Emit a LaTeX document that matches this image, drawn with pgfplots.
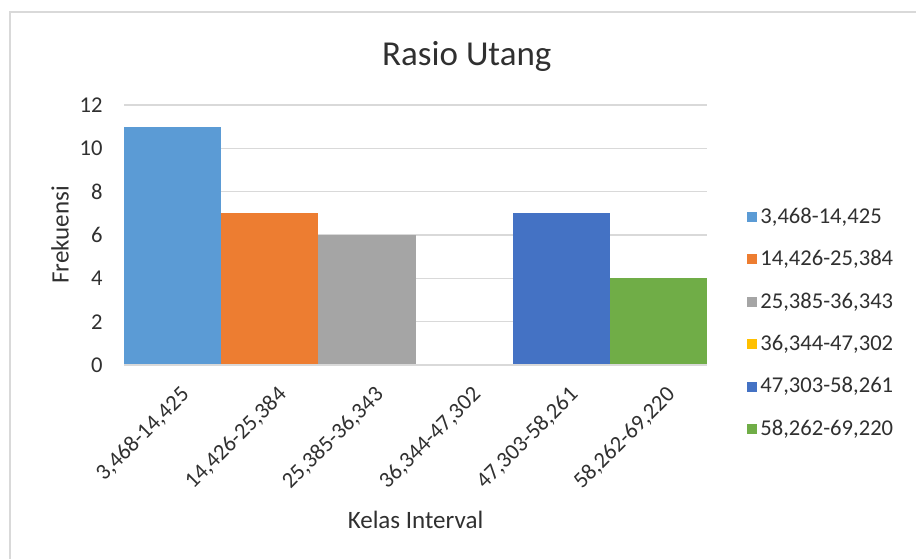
\documentclass[border=0pt]{standalone}
\usepackage{pgfplots}
\pgfplotsset{compat=1.18}
\usepackage{fontspec}
\setmainfont{Carlito}
\definecolor{c1}{HTML}{5B9BD5}
\definecolor{c2}{HTML}{ED7D31}
\definecolor{c3}{HTML}{A5A5A5}
\definecolor{c4}{HTML}{FFC000}
\definecolor{c5}{HTML}{4472C4}
\definecolor{c6}{HTML}{70AD47}
\definecolor{gridc}{HTML}{D9D9D9}
\definecolor{txt}{HTML}{303030}
\begin{document}
\begin{tikzpicture}
\path[use as bounding box] (0,0) rectangle (458pt,-279.5pt);
\draw[gridc, line width=1pt] (5pt,-279.5pt) -- (5pt,-6pt) -- (458pt,-6pt);
\begin{axis}[
  at={(62pt,-182.5pt)}, anchor=south west,
  scale only axis, width=291.5pt, height=130pt,
  ybar, bar width=48.6pt, bar shift=0pt,
  xmin=-0.5, xmax=5.5, ymin=0, ymax=12,
  xtick={0,1,2,3,4,5},
  xticklabels={3{,}468-14{,}425,14{,}426-25{,}384,25{,}385-36{,}343,36{,}344-47{,}302,47{,}303-58{,}261,58{,}262-69{,}220},
  ytick={0,2,4,6,8,10,12},
  xtick pos=bottom, ytick pos=left,
  ymajorgrids, grid style={gridc, line width=0.6pt},
  major tick length=0pt,
  axis line style={draw=none},
  /pgf/number format/assume math mode=true,
  tick label style={font=\fontsize{11.3}{13}\selectfont, text=txt},
  yticklabel style={inner sep=0pt, xshift=-10.5pt, anchor=east},
  xticklabel style={rotate=45, anchor=east, inner sep=0pt, yshift=-14pt, xshift=-4.5pt},
  xlabel={Kelas Interval}, ylabel={Frekuensi},
  every axis x label/.style={at={(axis description cs:0.5,-0.596)}, anchor=center, font=\fontsize{12.5}{14}\selectfont, text=txt},
  every axis y label/.style={at={(axis description cs:-0.1098,0.5)}, rotate=90, anchor=center, font=\fontsize{12.5}{14}\selectfont, text=txt},
  title={Rasio Utang},
  every axis title/.style={at={(axis description cs:0.588,1.1538)}, anchor=base, font=\fontsize{17.5}{20}\selectfont, text=txt},
  legend style={draw=none, fill=none, at={(axis description cs:1.0686,0.1615)}, anchor=west,
    font=\fontsize{11.3}{13}\selectfont, text=txt, inner sep=0pt, row sep=9pt,
    nodes={inner sep=1.5pt}},
  legend cell align=left,
  legend image code/.code={\fill[#1, draw=none] (0pt,-2.5pt) rectangle (5pt,2.5pt);},
]
\addplot[fill=c1, draw=none] coordinates {(0,11)};
\addplot[fill=c2, draw=none] coordinates {(1,7)};
\addplot[fill=c3, draw=none] coordinates {(2,6)};
\addplot[fill=c4, draw=none] coordinates {(3,0)};
\addplot[fill=c5, draw=none] coordinates {(4,7)};
\addplot[fill=c6, draw=none] coordinates {(5,4)};
\legend{3{,}468-14{,}425,14{,}426-25{,}384,25{,}385-36{,}343,36{,}344-47{,}302,47{,}303-58{,}261,58{,}262-69{,}220}
\draw[gridc, line width=0.6pt] (axis cs:-0.5,0) -- (axis cs:5.5,0);
\end{axis}
\end{tikzpicture}
\end{document}
